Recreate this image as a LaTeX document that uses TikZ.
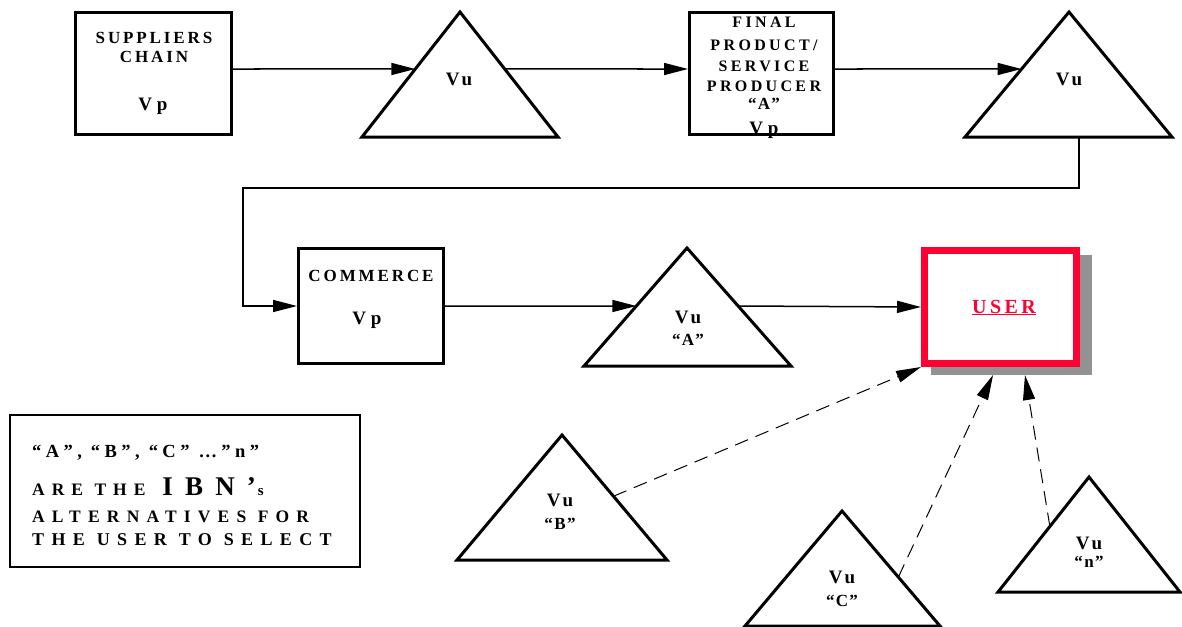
\documentclass[tikz,border=0pt]{standalone}
\usepackage{fontspec}
\setmainfont{Liberation Serif}
\usetikzlibrary{arrows.meta,calc}

\definecolor{userred}{RGB}{255,0,51}
\definecolor{shadowgray}{RGB}{146,146,146}

% bold, letter-spaced text at a given size and tracking
\newcommand{\spaced}[3]{\fontsize{#1}{#1}\selectfont\bfseries\addfontfeatures{LetterSpace=#2}#3}

\tikzset{
  box/.style={draw, line width=3pt, inner sep=0pt, fill=white},
  tri/.style={draw, line width=3pt, line join=miter},
  flow/.style={line width=1.5pt, -{Triangle[length=24pt,width=12pt]}},
  alt/.style={line width=1pt, dash pattern=on 14pt off 8pt, -{Triangle[length=25pt,width=12pt]}},
  txt/.style={inner sep=0pt, anchor=base},
  capsA/.style={txt, font=\spaced{17}{17}{}},
  capsB/.style={txt, font=\spaced{16}{21}{}},
  valp/.style={txt, font=\spaced{19}{25}{}},
  valu/.style={txt, font=\spaced{19}{20}{}},
  quot/.style={txt, font=\spaced{17}{8}{}},
  legline/.style={inner sep=0pt, anchor=base west}
}

\begin{document}
\begin{tikzpicture}[x=1pt,y=-1pt]
\useasboundingbox (0,0) rectangle (1182,626);

% ---------- upper chain ----------
\node[box, minimum width=156pt, minimum height=122pt] (sup) at (153.5,73.5) {};
\node[capsA] (supA) at (154,44) {SUPPLIERS};
\node[capsA] (supB) at (154,63) {CHAIN};
\node[valp] (supV) at (153,110) {Vp};

\coordinate (t1a) at (460,12); \coordinate (t1l) at (362,137); \coordinate (t1r) at (558,137);
\draw[tri] (t1a) -- (t1r) -- (t1l) -- cycle;
\node[valu] (t1v) at (459,85) {Vu};
\coordinate (t1in)  at ($(t1a)!0.456!(t1l)$);
\coordinate (t1out) at ($(t1a)!0.456!(t1r)$);

\node[box, minimum width=144pt, minimum height=122pt] (fp) at (761.5,73.5) {};
\node[capsB] (fp1) at (764,28) {FINAL};
\node[capsB] (fp2) at (764,51) {PRODUCT/};
\node[capsB] (fp3) at (764,71) {SERVICE};
\node[capsB] (fp4) at (764,91) {PRODUCER};
\node[quot]  (fp5) at (764,109) {“A”};
\node[valp]  (fp6) at (764,134) {Vp};
% bottom edge redrawn over the clipped value
\draw[line width=3pt] (fp.south west) ++(0,-1.5) -- ($(fp.south east)+(0,-1.5)$);

\coordinate (t2a) at (1069,12); \coordinate (t2l) at (965,137); \coordinate (t2r) at (1172,137);
\draw[tri] (t2a) -- (t2r) -- (t2l) -- cycle;
\node[valu] (t2v) at (1069,85) {Vu};
\coordinate (t2in)  at ($(t2a)!0.456!(t2l)$);
\coordinate (t2out) at (1079,137);

% ---------- lower chain ----------
\node[box, minimum width=145pt, minimum height=115pt] (com) at (371,306) {};
\node[capsA] (comA) at (371,281) {COMMERCE};
\node[valp] (comV) at (367,324) {Vp};

\coordinate (taa) at (687,248); \coordinate (tal) at (584,366); \coordinate (tar) at (791,366);
\draw[tri] (taa) -- (tar) -- (tal) -- cycle;
\node[valu] (tav) at (688,323) {Vu};
\node[quot] (taq) at (688,345) {“A”};
\coordinate (tain)  at ($(taa)!0.4915!(tal)$);
\coordinate (taout) at ($(taa)!0.4915!(tar)$);

% user box with drop shadow
\fill[shadowgray] (931,255) rectangle (1092,375);
\node[draw=userred, fill=white, line width=7pt, minimum width=152pt, minimum height=113pt, inner sep=0pt] (user) at (1000.5,307) {};
\node[txt, text=userred, font=\spaced{20}{17}{}] (usert) at (1004,313) {\underline{USER}};
\coordinate (shb1) at (993,375);
\coordinate (shb2) at (1025,375);

% ---------- alternatives ----------
\coordinate (tba) at (562,435); \coordinate (tbl) at (457,560); \coordinate (tbr) at (667,560);
\draw[tri] (tba) -- (tbr) -- (tbl) -- cycle;
\node[valu] (tbv) at (560,506) {Vu};
\node[quot] (tbq) at (560,529) {“B”};
\coordinate (tbout) at ($(tba)!0.49!(tbr)$);

\coordinate (tca) at (842,511); \coordinate (tcl) at (745,626); \coordinate (tcr) at (940,626);
\draw[tri] (tca) -- (tcr) -- (tcl) -- cycle;
\node[valu] (tcv) at (842,583) {Vu};
\node[quot] (tcq) at (842,606) {“C”};
\coordinate (tcout) at ($(tca)!0.575!(tcr)$);

\coordinate (tna) at (1089,477); \coordinate (tnl) at (998,592); \coordinate (tnr) at (1180,592);
\draw[tri] (tna) -- (tnr) -- (tnl) -- cycle;
\node[valu] (tnv) at (1089,549) {Vu};
\node[quot] (tnq) at (1089,567) {“n”};
\coordinate (tnout) at ($(tna)!0.43!(tnl)$);

% ---------- connectors ----------
\draw[flow] (sup.east |- 0,69) -- (t1in);
\draw[flow] (t1out) -- (fp.west |- 0,69);
\draw[flow] (fp.east |- 0,69) -- (t2in);
\draw[flow] (t2out) -- (1079,188) -- (243,188) -- (243,306) -- (com.west);
\draw[flow] (com.east) -- (tain);
\draw[flow] (taout) -- (user.west);

\draw[alt] (tbout) -- (user.south west);
\draw[alt] (tcout) -- (shb1);
\draw[alt] (tnout) -- (shb2);

% ---------- legend ----------
\node[draw, line width=1.5pt, minimum width=350pt, minimum height=152pt, inner sep=0pt] (leg) at (185,491) {};
\node[legline, font=\spaced{18.5}{24}{}] (leg1) at (32,457)
  {“A”,\hspace*{9pt}“B”,\hspace*{9pt}“C”\hspace*{9pt}…”n”};
\node[legline] (leg2) at (32,495)
  {\spaced{17.5}{40}{ARE THE}\hspace*{17pt}\spaced{27}{45}{IBN’}\hspace*{2pt}\spaced{15}{0}{s}};
\node[legline, font=\spaced{17.5}{41}{}] (leg3) at (32,522) {ALTERNATIVES FOR};
\node[legline, font=\spaced{18}{41}{}] (leg4) at (32,545) {THE USER TO SELECT};
\end{tikzpicture}
\end{document}
